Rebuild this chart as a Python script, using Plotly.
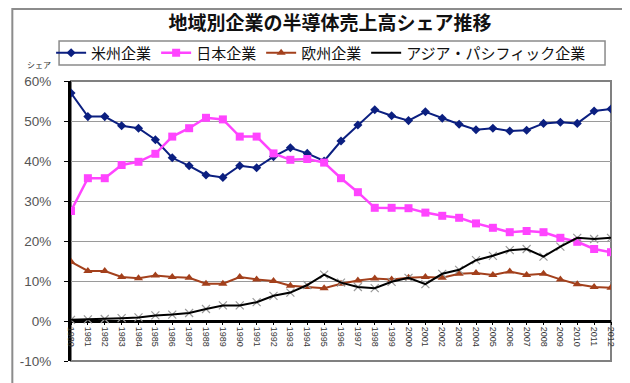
import plotly.graph_objects as go

years = list(range(1980, 2013))
year_labels = [str(y) for y in years]

americas = [57.0, 51.1, 51.1, 48.8, 48.2, 45.3, 40.8, 38.8, 36.5, 35.9, 38.8, 38.3, 41.1,
            43.3, 41.9, 40.0, 45.0, 49.0, 52.8, 51.3, 50.1, 52.3, 50.7, 49.2, 47.8, 48.2,
            47.5, 47.7, 49.4, 49.7, 49.4, 52.5, 53.0]
japan = [27.5, 35.7, 35.7, 39.0, 39.8, 41.8, 46.1, 48.2, 50.8, 50.4, 46.1, 46.1, 41.9,
         40.3, 40.5, 39.6, 35.7, 32.2, 28.3, 28.3, 28.2, 27.1, 26.3, 25.8, 24.4, 23.3,
         22.2, 22.5, 22.2, 20.8, 19.8, 18.0, 17.2]
europe = [14.8, 12.5, 12.5, 11.0, 10.7, 11.4, 11.0, 10.8, 9.3, 9.3, 11.0, 10.4, 10.0,
          8.8, 8.5, 8.2, 9.3, 10.1, 10.6, 10.4, 10.8, 11.0, 10.8, 11.8, 12.0, 11.5,
          12.4, 11.5, 11.8, 10.4, 9.2, 8.5, 8.3]
asia = [0.3, 0.4, 0.5, 0.7, 0.9, 1.4, 1.6, 2.0, 3.0, 3.9, 3.9, 4.7, 6.3,
        7.1, 9.0, 11.6, 9.6, 8.5, 8.2, 9.8, 10.8, 9.2, 11.8, 12.8, 15.2, 16.3,
        17.7, 18.0, 16.1, 18.6, 20.8, 20.5, 20.8]

series_names = ["米州企業", "日本企業", "欧州企業", "アジア・パシフィック企業"]
y_tickvals = [-10, 0, 10, 20, 30, 40, 50, 60]
y_ticklabels = ["-10%", "0%", "10%", "20%", "30%", "40%", "50%", "60%"]

title_text = "地域別企業の半導体売上高シェア推移"
y_title = "シェア"

JP = "Noto Sans CJK JP"
NUM = "Liberation Sans, Arial, sans-serif"

# plot-area pixel geometry (630x383 canvas)
L, R, T, B = 60, 27, 73, 30
PW = 630 - L - R
PH = 383 - T - B


def px_x(px):
    return (px - L) / PW


def px_y(py):
    return (383 - B - py) / PH


fig = go.Figure()

fig.add_trace(go.Scatter(
    x=years, y=americas, name=series_names[0], mode="lines+markers",
    line=dict(color="#0b1f80", width=2),
    marker=dict(symbol="diamond", size=7, color="#0b1f80"),
))
fig.add_trace(go.Scatter(
    x=years, y=japan, name=series_names[1], mode="lines+markers",
    line=dict(color="#ff44ff", width=2.5),
    marker=dict(symbol="square", size=8, color="#ff44ff"),
))
fig.add_trace(go.Scatter(
    x=years, y=europe, name=series_names[2], mode="lines+markers",
    line=dict(color="#a3401c", width=2),
    marker=dict(symbol="triangle-up", size=8, color="#a3401c"),
))
fig.add_trace(go.Scatter(
    x=years, y=asia, name=series_names[3], mode="markers", showlegend=False,
    marker=dict(symbol="x-thin-open", size=8, color="#9a9a9a", line=dict(width=1.2, color="#9a9a9a")),
    hoverinfo="skip",
))
fig.add_trace(go.Scatter(
    x=years, y=asia, name=series_names[3], mode="lines",
    line=dict(color="#000000", width=2),
))

shapes = [
    # plot frame
    dict(type="rect", xref="paper", yref="paper", x0=0, x1=1, y0=0, y1=1,
         line=dict(color="#808080", width=2), layer="between"),
    # legend box
    dict(type="rect", xref="paper", yref="paper",
         x0=px_x(48), x1=px_x(597), y0=px_y(57), y1=px_y(33),
         line=dict(color="#8a8a8a", width=1.5), fillcolor="white", layer="below"),
    # outer chart border
    dict(type="rect", xref="paper", yref="paper",
         x0=px_x(1), x1=px_x(623), y0=px_y(380), y1=px_y(1),
         line=dict(color="#8c8c8c", width=2), layer="below"),
]

fig.update_layout(
    width=630, height=383,
    margin=dict(l=L, r=R, t=T, b=B),
    paper_bgcolor="white", plot_bgcolor="white",
    showlegend=True,
    title=dict(text="<b>" + title_text + "</b>", x=322 / 630, xanchor="center",
               y=1 - 15 / 383, yanchor="middle", xref="container", yref="container",
               font=dict(family=JP, size=19, color="#111111")),
    legend=dict(orientation="h", x=px_x(40), xanchor="left", y=px_y(45), yanchor="middle",
                bgcolor="rgba(0,0,0,0)", borderwidth=0,
                font=dict(family=JP, size=15, color="#111111"),
                itemwidth=30, traceorder="normal"),
    shapes=shapes,
    annotations=[dict(text=y_title, xref="paper", yref="paper", x=px_x(28), y=px_y(57),
                      xanchor="center", yanchor="middle", showarrow=False,
                      font=dict(family=JP, size=8, color="#333333"))],
)

fig.update_xaxes(
    range=[1980, 2012], tickmode="array", tickvals=years, ticktext=year_labels,
    tickangle=90, tickfont=dict(family=NUM, size=9, color="#333333"),
    showgrid=False, zeroline=False, showline=False,
    anchor="free", position=10 / 70,
    ticks="outside", ticklen=3, tickcolor="#000000", tickwidth=1,
    fixedrange=True,
)
fig.update_yaxes(
    range=[-10, 60], tickmode="array", tickvals=y_tickvals, ticktext=y_ticklabels,
    tickfont=dict(family=NUM, size=13.5, color="#555555"),
    showgrid=True, gridcolor="#9a9a9a", gridwidth=1,
    zeroline=True, zerolinecolor="#000000", zerolinewidth=3,
    showline=True, linecolor="#000000", linewidth=3,
    ticks="outside", ticklen=4, tickcolor="#000000",
    ticklabelstandoff=10, fixedrange=True,
)

fig.write_html("out.html")
